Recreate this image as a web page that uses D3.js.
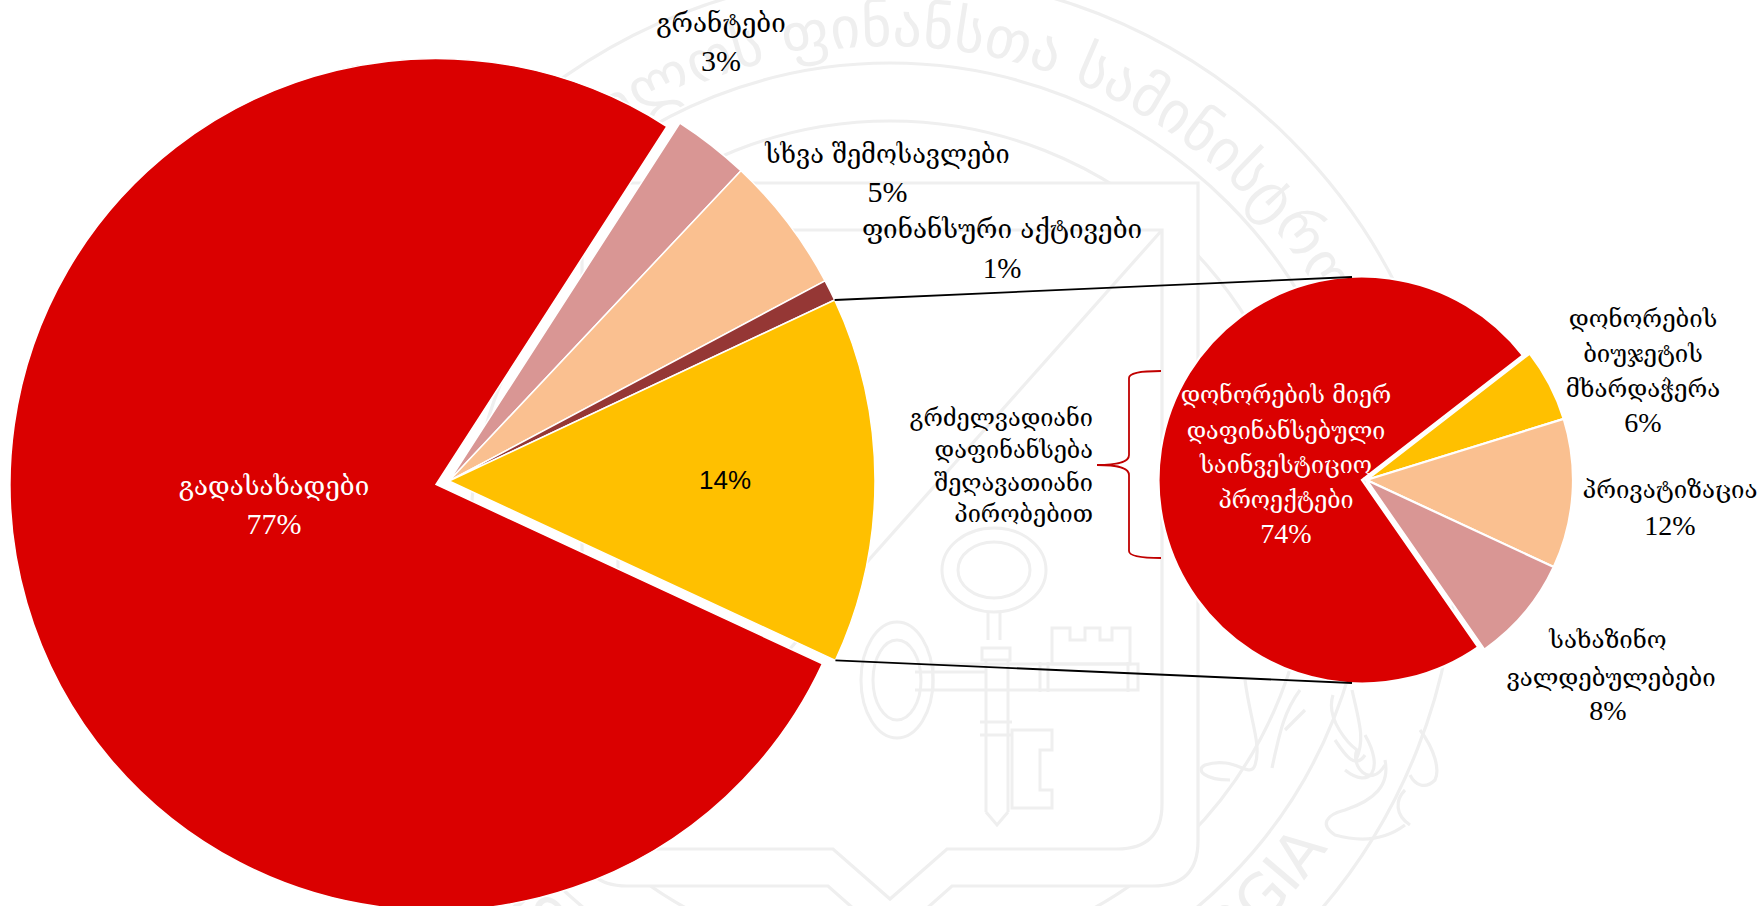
<!DOCTYPE html>
<html><head><meta charset="utf-8">
<script src="https://cdn.jsdelivr.net/npm/d3@7"></script>
<style>html,body{margin:0;padding:0;background:#fff;overflow:hidden}svg{display:block}</style>
</head><body><svg id="c" width="1762" height="906"></svg>
<script>
const mainCategories=["გადასახადები","გრანტები","სხვა შემოსავლები","ფინანსური აქტივები","გრძელვადიანი სესხები"];
const mainValues=[77.2,2.9,5.2,0.8,13.9];
const mainColors=["#DA0000","#D99694","#FAC090","#953735","#FFC000"];
const subCategories=["დონორების მიერ დაფინანსებული საინვესტიციო პროექტები","დონორების ბიუჯეტის მხარდაჭერა","პრივატიზაცია","სახაზინო ვალდებულებები"];
const subValues=[74.1,5.7,11.7,8.4];
const subColors=["#DA0000","#FFC000","#FAC090","#D99694"];
const mainLabelLines=[["გადასახადები","77%"],["გრანტები","3%"],["სხვა შემოსავლები","5%"],["ფინანსური აქტივები","1%"],["14%"]];
const subLabelLines=[["დონორების მიერ","დაფინანსებული","საინვესტიციო","პროექტები","74%"],["დონორების","ბიუჯეტის","მხარდაჭერა","6%"],["პრივატიზაცია","12%"],["სახაზინო","ვალდებულებები","8%"]];
const braceLines=["გრძელვადიანი","დაფინანსება","შეღავათიანი","პირობებით"];
const sealTextGe="საქართველოს ფინანსთა სამინისტრო";
const sealTextEn="MINISTRY OF FINANCE OF GEORGIA";

const svg=d3.select("#c");
const rad=d=>d*Math.PI/180;
const FONT="'DejaVu Serif','Liberation Serif',serif";
const defs=svg.append("defs");
defs.append("filter").attr("id","soft").append("feGaussianBlur").attr("stdDeviation",0.7);

/* ---------- watermark seal ---------- */
const WM="#efefef";
const seal=svg.append("g").attr("filter","url(#soft)");
const wm=seal.append("g").attr("fill","none").attr("stroke",WM).attr("stroke-width",3.2);
const sx=890,sy=541;
[567,478,420].forEach(r=>wm.append("circle").attr("cx",sx).attr("cy",sy).attr("r",r));
const frame=(t,r,b,cr,nx,nd)=>{
  const l=2*sx-r;
  const p=d3.path();
  p.moveTo(l,t);p.lineTo(r,t);p.lineTo(r,b-cr);p.quadraticCurveTo(r,b,r-cr,b);
  p.lineTo(sx+nx,b);p.lineTo(sx,b+nd);p.lineTo(sx-nx,b);
  p.lineTo(l+cr,b);p.quadraticCurveTo(l,b,l,b-cr);p.closePath();
  return p.toString();
};
wm.append("path").attr("d",frame(183,1198,886,45,62,55)).attr("fill","#fff");
wm.append("path").attr("d",frame(230,1162,849,45,57,50));
wm.append("path").attr("d",d3.line()([[1162,230],[700,750]]));
/* crossed keys */
const keys=wm.append("g").attr("stroke-width",3);
keys.append("ellipse").attr("cx",994).attr("cy",570).attr("rx",52).attr("ry",42);
keys.append("ellipse").attr("cx",994).attr("cy",570).attr("rx",36).attr("ry",28);
keys.append("path").attr("d","M988,612V640M1000,612V640M982,648H1010V660H982ZM986,660V812M1008,660V812M980,722H1012M980,735H1012M986,812L997,825L1008,812");
keys.append("path").attr("d","M1012,730H1052V750H1040V790H1052V808H1012Z");
keys.append("ellipse").attr("cx",897).attr("cy",680).attr("rx",36).attr("ry",58);
keys.append("ellipse").attr("cx",897).attr("cy",680).attr("rx",24).attr("ry",40);
keys.append("path").attr("d","M933,664H1138V690H933ZM915,672H985M915,690H985M1040,662V692M1048,662V692M1128,662V692");
keys.append("path").attr("d","M1052,628H1070V640H1085V628H1100V640H1112V628H1130V664H1052Z");
/* griffin supporter strokes */
const lion=wm.append("g").attr("stroke-width",3.2);
lion.append("path").attr("d","M1245,680C1250,720 1262,745 1255,765C1250,780 1235,755 1205,765C1195,770 1205,780 1230,780");
lion.append("path").attr("d","M1300,690C1285,710 1280,730 1272,768M1285,730L1305,710");
lion.append("path").attr("d","M1333,695C1325,720 1350,745 1357,750C1350,765 1370,790 1385,765M1345,770C1370,790 1385,770 1365,735");
lion.append("path").attr("d","M1335,740C1345,755 1355,770 1365,755M1352,690C1360,725 1365,740 1356,760");
lion.append("path").attr("d","M1385,760C1390,785 1375,800 1345,810C1325,815 1320,825 1335,835C1360,842 1385,840 1405,825M1405,790C1395,800 1395,815 1410,825");
lion.append("path").attr("d","M1420,730C1435,750 1440,770 1435,780C1425,790 1415,785 1410,775");
/* ring texts */
const arcPath=(r,a0,a1,ccw)=>{const p=d3.path();p.arc(sx,sy,r,rad(a0-90),rad(a1-90),ccw);return p.toString();};
defs.append("path").attr("id","ringGe").attr("d",arcPath(495,-125,61,false));
defs.append("path").attr("id","ringEn").attr("d",arcPath(535,233,125,true));
seal.append("text").attr("font-family","'DejaVu Sans',sans-serif").attr("font-size",58).attr("fill",WM).attr("text-anchor","end")
  .append("textPath").attr("href","#ringGe").attr("startOffset","100%").text(sealTextGe);
seal.append("text").attr("font-family","'DejaVu Sans',sans-serif").attr("font-size",60).attr("fill",WM).attr("text-anchor","end")
  .append("textPath").attr("href","#ringEn").attr("startOffset","100%").text(sealTextEn);

/* ---------- main pie ---------- */
const mainStart=114.9;
const mainPie=d3.pie().sort(null).startAngle(rad(mainStart)).endAngle(rad(mainStart+360))(mainValues);
const mainArc=d3.arc().innerRadius(0).outerRadius(426);
const mainG=svg.append("g").attr("transform","translate(449,481)");
mainG.selectAll("path").data(mainPie).join("path")
  .attr("d",mainArc).attr("fill",(d,i)=>mainColors[i])
  .attr("stroke","#fff").attr("stroke-width",1.5)
  .attr("transform",(d,i)=>i===0?"translate(-13,3.5)":null);

/* ---------- breakdown pie ---------- */
const subStart=145.2;
const subPie=d3.pie().sort(null).startAngle(rad(subStart)).endAngle(rad(subStart+360))(subValues);
const subG=svg.append("g").attr("transform","translate(1362,480)");
subG.selectAll("path").data(subPie).join("path")
  .attr("d",(d,i)=>d3.arc().innerRadius(0).outerRadius(i===0?203.5:206.5)(d))
  .attr("fill",(d,i)=>subColors[i]).attr("stroke","#fff").attr("stroke-width",2.2)
  .attr("transform",(d,i)=>i===0?null:"translate(4.5,0)");

/* connectors: from the edges of the yellow slice to the top and bottom of the second pie */
const yellow=mainPie[4];
const edge=a=>[449+426*Math.sin(a),481-426*Math.cos(a)];
const conn=svg.append("g").attr("stroke","#000").attr("stroke-width",1.8).attr("fill","none");
conn.append("path").attr("d",d3.line()([edge(yellow.startAngle),[1352,277]]));
conn.append("path").attr("d",d3.line()([edge(yellow.endAngle),[1352,683]]));

/* brace */
svg.append("path").attr("fill","none").attr("stroke","#C00000").attr("stroke-width",1.8)
 .attr("d","M1161,371C1145,371 1129,372 1129,378V455C1129,461 1122,465 1097,465C1122,465 1129,469 1129,475V551C1129,557 1145,558 1161,558");

/* ---------- labels ---------- */
function label(lines,x,ys,opt={}){
  const g=svg.append("g").attr("fill",opt.fill||"#000").attr("text-anchor",opt.anchor||"middle");
  lines.forEach((t,i)=>{
    const isPct=/%$/.test(t);
    g.append("text").attr("x",Array.isArray(x)?x[i]:x).attr("y",ys[i])
      .attr("font-family",isPct?(opt.pctFont||"'Liberation Serif',serif"):FONT)
      .attr("font-size",isPct?(opt.pctSize||28):(opt.size||24)).text(t);
  });
}
const big={size:26,pctSize:30};
label(mainLabelLines[0],274,[495,534],{...big,fill:"#fff"});
label(mainLabelLines[1],721,[32,71],big);
label(mainLabelLines[2],887.5,[163,202],{size:25.3,pctSize:30});
label(mainLabelLines[3],1002,[238,278],{size:26,pctSize:29});
label(mainLabelLines[4],725,[489],{pctFont:"'Liberation Sans',sans-serif",pctSize:26});
label(braceLines,1093,[426,458,491,522],{anchor:"end",size:23.5});
label(subLabelLines[0],1286,[403,439,473,508,543],{fill:"#fff",size:23.3});
label(subLabelLines[1],1643,[327,362,397,432]);
label(subLabelLines[2],1670,[498,535]);
label(subLabelLines[3],[1608,1611,1608],[648,686,720]);
</script></body></html>
